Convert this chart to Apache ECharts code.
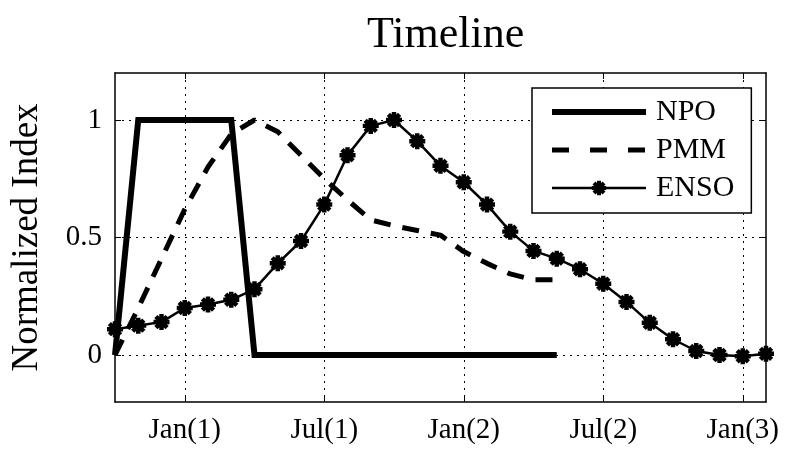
<!DOCTYPE html>
<html><head><meta charset="utf-8">
<script src="https://cdn.jsdelivr.net/npm/echarts@6/dist/echarts.min.js"></script>
<style>html,body{margin:0;padding:0;background:#fff}#c{width:785px;height:449px}</style>
</head><body><div id="c"></div>
<script>
// months relative to Jan(1)
const ensoMonths = [-3,-2,-1,0,1,2,3,4,5,6,7,8,9,10,11,12,13,14,15,16,17,18,19,20,21,22,23,24,25];
const shortMonths = [-3,-2,-1,0,1,2,3,4,5,6,7,8,9,10,11,12,13,14,15,16];
const xTickValues = [0,6,12,18,24];
const xTickLabels = ['Jan(1)','Jul(1)','Jan(2)','Jul(2)','Jan(3)'];
const yTickValues = [0,0.5,1];
const yTickLabels = ['0','0.5','1'];
const npo  = [0,1,1,1,1,1,0,0,0,0,0,0,0,0,0,0,0,0,0,0];
const pmm  = [0,0.2,0.41,0.62,0.80,0.94,1.0,0.95,0.85,0.75,0.66,0.575,0.55,0.53,0.51,0.44,0.39,0.345,0.32,0.32];
const enso = [0.11,0.125,0.14,0.20,0.215,0.235,0.28,0.39,0.485,0.64,0.85,0.975,1.0,0.91,0.805,0.735,0.64,0.525,0.443,0.41,0.365,0.303,0.226,0.137,0.067,0.017,0.0,-0.005,0.005];

const FONT = 'Liberation Serif';
const star = 'path://M0 36L100 36L100 64L0 64Z M36 0L64 0L64 100L36 100Z M5 25L25 5L95 75L75 95Z M75 5L95 25L25 95L5 75Z';
const pair = (xs, ys) => ys.map((v, i) => [xs[i], v]);
const dotted = {color:'#000', width:1, type:[2,5]};
const xlab = v => { const i = xTickValues.indexOf(v); return i >= 0 ? xTickLabels[i] : ''; };
const ylab = v => { const i = yTickValues.indexOf(v); return i >= 0 ? yTickLabels[i] : ''; };

const chart = echarts.init(document.getElementById('c'), null, {renderer:'canvas'});
chart.setOption({
  animation:false,
  backgroundColor:'#fff',
  title:{text:'Timeline', left:362, top:8, textStyle:{fontFamily:FONT, fontSize:44, fontWeight:'normal', color:'#000'}},
  grid:{left:115, right:19, top:73, bottom:47, outerBoundsMode:'none'},
  legend:{
    left:532, top:88, orient:'vertical', padding:[9,17,10,17],
    backgroundColor:'#fff', borderColor:'#000', borderWidth:1.5, borderRadius:0,
    itemWidth:94, itemHeight:18, itemGap:8, selectedMode:false,
    textStyle:{fontFamily:FONT, fontSize:30, color:'#000', lineHeight:30, padding:[0,0,0,5]},
    data:[
      {name:'NPO', itemStyle:{opacity:0}, lineStyle:{width:6, color:'#000', type:'solid'}},
      {name:'PMM', itemStyle:{opacity:0}, lineStyle:{width:5, color:'#000', type:[17,21]}},
      {name:'ENSO', itemStyle:{color:'#000'}, lineStyle:{width:2.5, color:'#000', type:'solid'}}
    ]
  },
  xAxis:[
    {type:'value', min:-3, max:25, position:'bottom',
     axisLine:{onZero:false, lineStyle:{color:'#000', width:1.5}},
     axisTick:{inside:true, length:6, customValues:xTickValues, lineStyle:{color:'#000', width:1}},
     axisLabel:{customValues:xTickValues, formatter:xlab, fontFamily:FONT, fontSize:29, color:'#000', margin:14},
     splitLine:{show:true, lineStyle:dotted}},
    {type:'value', min:-3, max:25, position:'top',
     axisLine:{onZero:false, lineStyle:{color:'#000', width:1.5}},
     axisTick:{inside:true, length:6, customValues:xTickValues, lineStyle:{color:'#000', width:1}},
     axisLabel:{show:false}, splitLine:{show:false}}
  ],
  yAxis:[
    {type:'value', min:-0.2, max:1.2, position:'left',
     name:'Normalized Index', nameLocation:'middle', nameGap:69, nameRotate:90,
     nameTextStyle:{fontFamily:FONT, fontSize:37, color:'#000'},
     axisLine:{onZero:false, lineStyle:{color:'#000', width:1.5}},
     axisTick:{inside:true, length:6, customValues:yTickValues, lineStyle:{color:'#000', width:1}},
     axisLabel:{customValues:yTickValues, formatter:ylab, fontFamily:FONT, fontSize:29, color:'#000', margin:13},
     splitLine:{show:true, lineStyle:dotted}},
    {type:'value', min:-0.2, max:1.2, position:'right',
     axisLine:{onZero:false, lineStyle:{color:'#000', width:1.5}},
     axisTick:{inside:true, length:6, customValues:yTickValues, lineStyle:{color:'#000', width:1}},
     axisLabel:{show:false}, splitLine:{show:false}}
  ],
  series:[
    {name:'NPO', type:'line', data:pair(shortMonths, npo), symbol:'none', clip:false,
     lineStyle:{color:'#000', width:6, join:'miter'}, itemStyle:{color:'#000'}, z:2},
    {name:'PMM', type:'line', data:pair(shortMonths, pmm), symbol:'none', clip:false,
     lineStyle:{color:'#000', width:5, type:[17,12]}, itemStyle:{color:'#000'}, z:3},
    {name:'ENSO', type:'line', data:pair(ensoMonths, enso), symbol:star, symbolSize:16, showAllSymbol:true, clip:false,
     lineStyle:{color:'#000', width:2.5}, itemStyle:{color:'#000'}, z:4}
  ]
});
</script></body></html>
